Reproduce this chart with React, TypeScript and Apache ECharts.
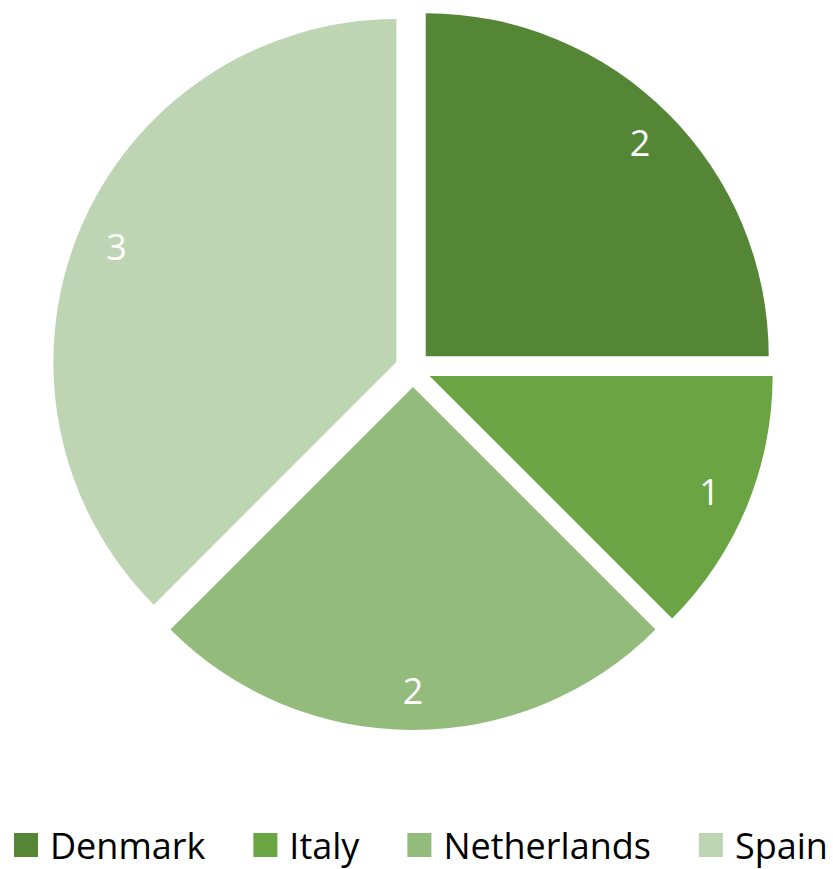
import React, { useEffect, useRef } from "react";
import * as echarts from "echarts";

const categories = ["Denmark", "Italy", "Netherlands", "Spain"];
const values = [2, 1, 2, 3];
const colors = ["#558636", "#6aa443", "#93bb7c", "#bed5b4"];

export default function App() {
  const ref = useRef<HTMLDivElement>(null);
  useEffect(() => {
    if (!ref.current) return;
    const chart = echarts.init(ref.current, null, { renderer: "svg" });
    const data = categories.map((name, i) => ({
      name,
      value: values[i],
      selected: true,
      itemStyle: { color: colors[i] },
    }));
    const common = {
      type: "pie" as const,
      center: [413, 369],
      startAngle: 90,
      clockwise: true,
      selectedMode: "multiple" as const,
      selectedOffset: 18,
      animation: false,
      emphasis: { disabled: true },
    };
    chart.setOption({
      animation: false,
      backgroundColor: "#ffffff",
      legend: {
        data: categories,
        left: 14,
        top: 827,
        padding: 0,
        itemWidth: 24,
        itemHeight: 24,
        itemGap: 48,
        icon: "rect",
        selectedMode: false,
        textStyle: {
          fontFamily: "Open Sans",
          fontSize: 36,
          color: "#000000",
          padding: [0, 0, 0, 7],
        },
      },
      series: [
        {
          ...common,
          name: "pie",
          radius: [0, 343],
          label: { show: false },
          labelLine: { show: false },
          data,
        },
        {
          ...common,
          name: "labels",
          radius: [246, 354],
          silent: true,
          itemStyle: { color: "rgba(0,0,0,0)" },
          label: {
            show: true,
            position: "inside",
            formatter: "{c}",
            color: "#ffffff",
            fontFamily: "Open Sans",
            fontSize: 36,
          },
          labelLine: { show: false },
          data: categories.map((name, i) => ({
            name,
            value: values[i],
            selected: true,
          })),
        },
      ],
    });
    return () => chart.dispose();
  }, []);
  return (
    <div
      ref={ref}
      style={{ position: "fixed", left: 0, top: 0, width: 833, height: 869 }}
    />
  );
}
